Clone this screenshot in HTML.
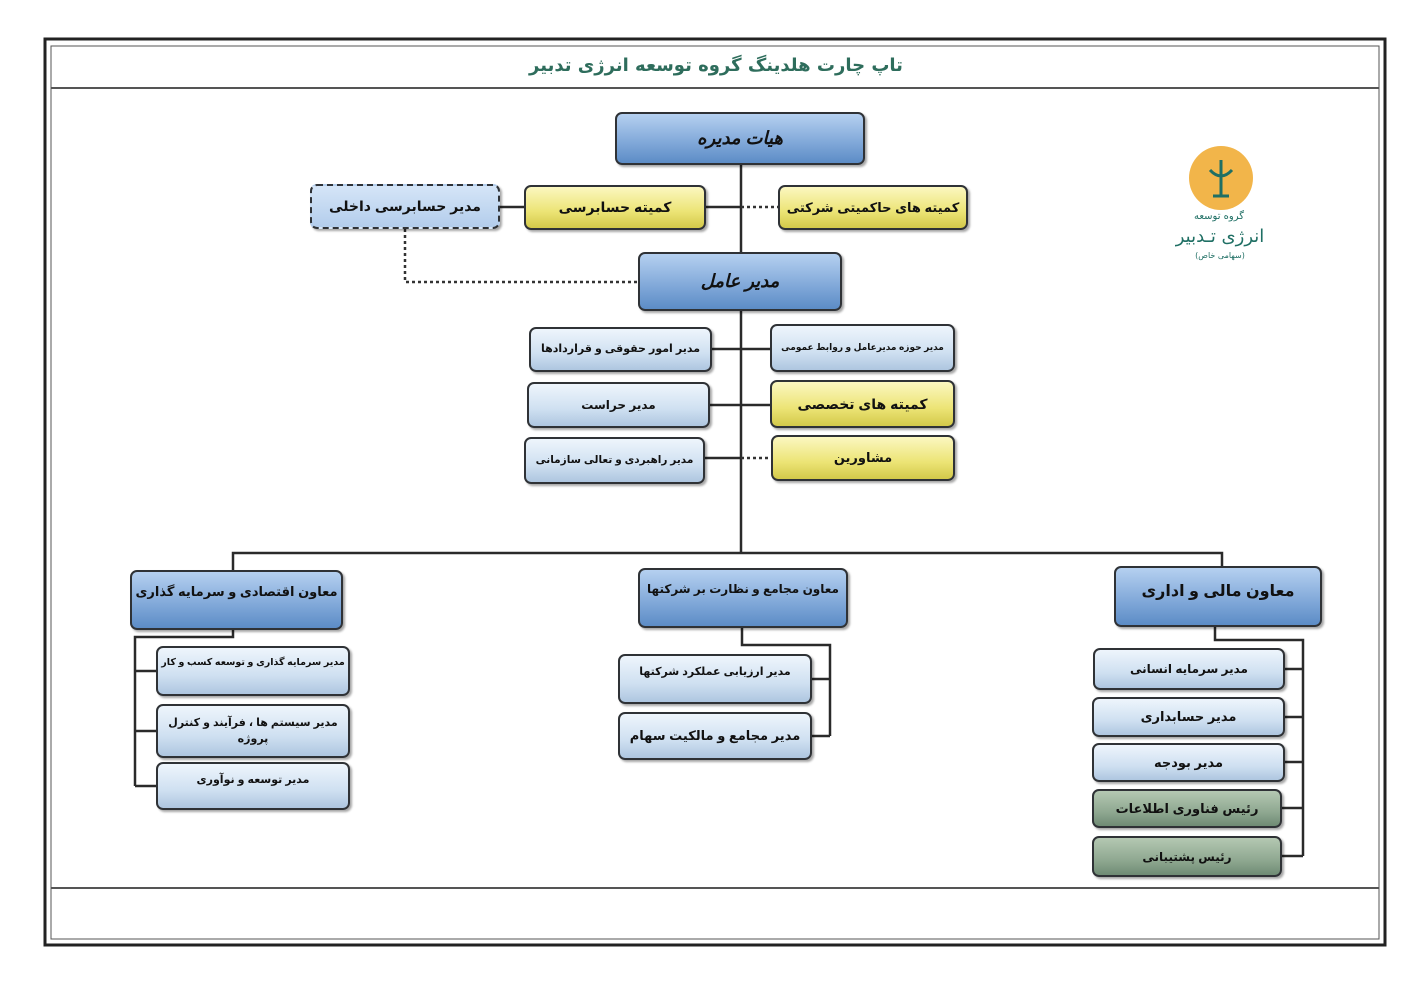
<!DOCTYPE html>
<html><head><meta charset="utf-8"><style>
body{margin:0;width:1422px;height:1000px;background:#fff;position:relative;overflow:hidden;font-family:"Liberation Sans","DejaVu Sans",sans-serif}
.b{position:absolute;box-sizing:border-box;border:2px solid #2f3236;border-radius:7px;display:flex;align-items:center;justify-content:center;text-align:center;direction:rtl;font-weight:bold;color:#111;box-shadow:2px 2px 2px rgba(0,0,0,.35);line-height:1.5;white-space:nowrap}
.bl{background:linear-gradient(#b5d0f0,#7fa7d8 60%,#5c8cc6);font-size:18px;font-style:italic}
.lb{background:linear-gradient(#eef5fc,#cfe0f1 60%,#aec6e0);font-size:12px}
.ye{background:linear-gradient(#fbf7c0,#ece475 60%,#d3c94a);font-size:14px}
.gr{background:linear-gradient(#b4c8b2,#8fa891 60%,#6f8b74);font-size:13px}
.vp{font-size:13px;font-style:normal}
</style></head><body>
<svg width="1422" height="1000" style="position:absolute;left:0;top:0">
<rect x="45" y="39" width="1340" height="906" fill="none" stroke="#222" stroke-width="3"/>
<rect x="51" y="46" width="1328" height="893" fill="none" stroke="#555" stroke-width="1"/>
<line x1="51" y1="88" x2="1379" y2="88" stroke="#555" stroke-width="2"/>
<line x1="51" y1="888" x2="1379" y2="888" stroke="#555" stroke-width="2"/>
<g stroke="#2a2a2a" stroke-width="2.5" fill="none">
<line x1="741" y1="165" x2="741" y2="553"/>
<line x1="500" y1="207" x2="524" y2="207"/>
<line x1="706" y1="207" x2="741" y2="207"/>
<line x1="712" y1="349" x2="770" y2="349"/>
<line x1="710" y1="405" x2="770" y2="405"/>
<line x1="705" y1="458" x2="741" y2="458"/>
<polyline points="233,570 233,553 1222,553 1222,566"/>
<polyline points="233,630 233,637 135,637 135,786"/>
<line x1="135" y1="671" x2="156" y2="671"/><line x1="135" y1="731" x2="156" y2="731"/><line x1="135" y1="786" x2="156" y2="786"/>
<polyline points="742,628 742,645 830,645 830,736"/>
<line x1="812" y1="679" x2="830" y2="679"/><line x1="812" y1="736" x2="830" y2="736"/>
<polyline points="1215,627 1215,640 1303,640 1303,856"/>
<line x1="1285" y1="669" x2="1303" y2="669"/><line x1="1285" y1="717" x2="1303" y2="717"/><line x1="1285" y1="762" x2="1303" y2="762"/><line x1="1282" y1="808" x2="1303" y2="808"/><line x1="1282" y1="856" x2="1303" y2="856"/>
</g>
<g stroke="#333" stroke-width="2.5" stroke-dasharray="3,3" fill="none">
<line x1="741" y1="207" x2="778" y2="207"/>
<polyline points="405,229 405,282 638,282"/>
<line x1="741" y1="458" x2="771" y2="458"/>
</g>
<circle cx="1221" cy="178" r="32" fill="#f2b54a"/>
<path d="M1221 160 v36 M1210 170 q11 12 22 0 M1213 196 h16" stroke="#1f6f64" stroke-width="3" fill="none"/>
<text x="1219" y="219" font-size="10" fill="#1f6f64" text-anchor="middle" font-family="DejaVu Sans">گروه توسعه</text>
<text x="1220" y="242" font-size="18" fill="#1f6f64" text-anchor="middle" font-family="DejaVu Sans">انرژی تـدبیر</text>
<text x="1220" y="258" font-size="8" fill="#1f6f64" text-anchor="middle" font-family="DejaVu Sans">(سهامی خاص)</text>
<text x="716" y="71" font-size="18" font-weight="bold" fill="#2e6d5c" text-anchor="middle" font-family="DejaVu Sans" direction="rtl">تاپ چارت هلدینگ گروه توسعه انرژی تدبیر</text>
</svg>
<div class="b bl" style="left:615px;top:112px;width:250px;height:53px">هیات مدیره</div>
<div class="b ye" style="left:524px;top:185px;width:182px;height:45px">کمیته حسابرسی</div>
<div class="b ye" style="left:778px;top:185px;width:190px;height:45px;font-size:13px">کمیته های حاکمیتی شرکتی</div>
<div class="b lb" style="left:310px;top:184px;width:190px;height:45px;border-style:dashed;font-size:14px;background:linear-gradient(#d5e5f7,#b3cdec)">مدیر حسابرسی داخلی</div>
<div class="b bl" style="left:638px;top:252px;width:204px;height:59px">مدیر عامل</div>
<div class="b lb" style="left:529px;top:327px;width:183px;height:45px;font-size:11px">مدیر امور حقوقی و قراردادها</div>
<div class="b lb" style="left:770px;top:324px;width:185px;height:48px;font-size:9px">مدیر حوزه مدیرعامل و روابط عمومی</div>
<div class="b lb" style="left:527px;top:382px;width:183px;height:46px">مدیر حراست</div>
<div class="b ye" style="left:770px;top:380px;width:185px;height:48px">کمیته های تخصصی</div>
<div class="b lb" style="left:524px;top:437px;width:181px;height:47px;font-size:10.5px">مدیر راهبردی و تعالی سازمانی</div>
<div class="b ye" style="left:771px;top:435px;width:184px;height:46px;font-size:13px">مشاورین</div>
<div class="b bl vp" style="left:130px;top:570px;width:213px;height:60px;align-items:flex-start;padding-top:10px">معاون اقتصادی و سرمایه گذاری</div>
<div class="b bl vp" style="left:638px;top:568px;width:210px;height:60px;align-items:flex-start;padding-top:10px;font-size:12px">معاون مجامع و نظارت بر شرکتها</div>
<div class="b bl vp" style="left:1114px;top:566px;width:208px;height:61px;font-size:16px;align-items:flex-start;padding-top:12px">معاون مالی و اداری</div>
<div class="b lb" style="left:156px;top:646px;width:194px;height:50px;font-size:9.5px;align-items:flex-start;padding-top:8px">مدیر سرمایه گذاری و توسعه کسب و کار</div>
<div class="b lb" style="left:156px;top:704px;width:194px;height:54px;font-size:11px;white-space:normal">مدیر سیستم ها ، فرآیند و کنترل پروژه</div>
<div class="b lb" style="left:156px;top:762px;width:194px;height:48px;font-size:11px;align-items:flex-start;padding-top:8px">مدیر توسعه و نوآوری</div>
<div class="b lb" style="left:618px;top:654px;width:194px;height:50px;font-size:11px;align-items:flex-start;padding-top:8px">مدیر ارزیابی عملکرد شرکتها</div>
<div class="b lb" style="left:618px;top:712px;width:194px;height:48px;font-size:13px">مدیر مجامع و مالکیت سهام</div>
<div class="b lb" style="left:1093px;top:648px;width:192px;height:42px">مدیر سرمایه انسانی</div>
<div class="b lb" style="left:1092px;top:697px;width:193px;height:40px;font-size:13px">مدیر حسابداری</div>
<div class="b lb" style="left:1092px;top:743px;width:193px;height:39px;font-size:13px">مدیر بودجه</div>
<div class="b gr" style="left:1092px;top:789px;width:190px;height:39px">رئیس فناوری اطلاعات</div>
<div class="b gr" style="left:1092px;top:836px;width:190px;height:41px;font-size:12px">رئیس پشتیبانی</div>
</body></html>
